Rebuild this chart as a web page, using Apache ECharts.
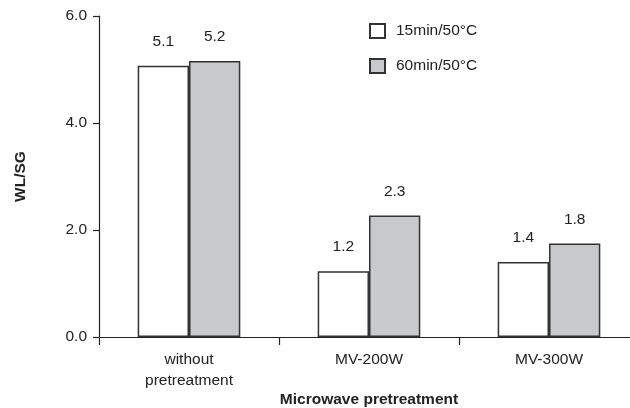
<!DOCTYPE html>
<html><head><meta charset="utf-8">
<script src="https://cdn.jsdelivr.net/npm/echarts@6/dist/echarts.min.js"></script>
<style>html,body{margin:0;padding:0;background:#fff}#c{width:630px;height:408px}</style>
</head><body><div id="c"></div>
<script>
const categories = ['without\npretreatment', 'MV-200W', 'MV-300W'];
const series15 = [5.07, 1.23, 1.40];
const series60 = [5.16, 2.27, 1.75];
const seriesNames = ['15min/50°C', '60min/50°C'];
const yTicks = [0, 2, 4, 6];

const font = '"Liberation Sans", Arial, sans-serif';
const fs = 15.5;
const chart = echarts.init(document.getElementById('c'));
const lbl = {show: true, position: 'top', distance: 16, color: '#222', fontSize: fs, fontFamily: font,
  formatter: p => p.value.toFixed(1)};
chart.setOption({
  animation: false,
  backgroundColor: '#fff',
  grid: {left: 99, top: 16, width: 540, height: 321, containLabel: false, outerBoundsMode: 'none'},
  legend: {
    orient: 'vertical', left: 369, top: 23, padding: 0, itemWidth: 15, itemHeight: 14, itemGap: 19,
    icon: 'rect',
    textStyle: {fontSize: fs, color: '#222', fontFamily: font, padding: [0, 0, 0, 6]},
    data: seriesNames
  },
  xAxis: {
    type: 'category', data: categories,
    name: 'Microwave pretreatment', nameLocation: 'middle', nameGap: 55, nameMoveOverlap: false,
    nameTextStyle: {fontSize: fs, fontWeight: 'bold', color: '#222', fontFamily: font},
    axisLine: {lineStyle: {color: '#222', width: 1.2}},
    axisTick: {show: true, length: 8, lineStyle: {color: '#222', width: 1.2}},
    axisLabel: {fontSize: fs, color: '#222', fontFamily: font, margin: 12, lineHeight: 21}
  },
  yAxis: {
    type: 'value', min: 0, max: 6, interval: 2,
    name: 'WL/SG', nameLocation: 'middle', nameGap: 70, nameRotate: 90, nameMoveOverlap: false,
    nameTextStyle: {fontSize: fs, fontWeight: 'bold', color: '#222', fontFamily: font},
    axisLine: {show: true, lineStyle: {color: '#222', width: 1.2}},
    axisTick: {show: true, length: 6, lineStyle: {color: '#222', width: 1.2}},
    splitLine: {show: false},
    axisLabel: {fontSize: fs, color: '#222', fontFamily: font, margin: 12,
      formatter: v => yTicks.includes(v) ? v.toFixed(1) : ''}
  },
  series: [
    {name: seriesNames[0], type: 'bar', data: series15, barGap: '0%', barCategoryGap: '43%',
     itemStyle: {color: '#ffffff', borderColor: '#333', borderWidth: 1.5}, label: lbl},
    {name: seriesNames[1], type: 'bar', data: series60,
     itemStyle: {color: '#c8c9cb', borderColor: '#333', borderWidth: 1.5}, label: lbl}
  ]
});
</script></body></html>
